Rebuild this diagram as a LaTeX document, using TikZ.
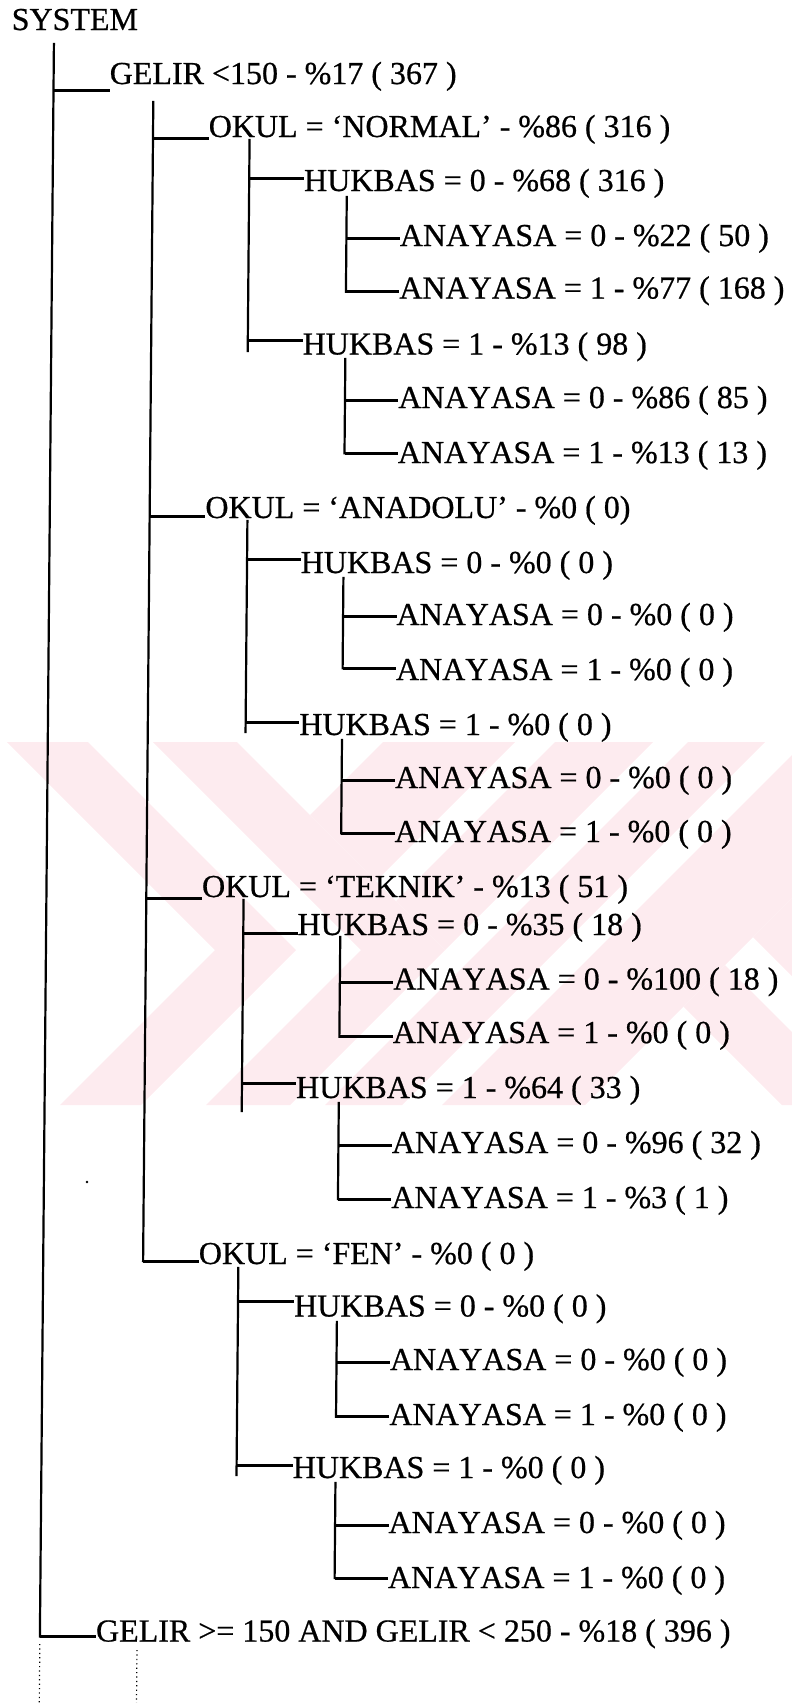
\documentclass[tikz,border=0pt]{standalone}
\usepackage{fontspec}
\setmainfont{Liberation Serif}[Kerning=Off,FakeBold=0.6]
\definecolor{wmpink}{RGB}{253,235,239}
\tikzset{
  lbl/.style={anchor=base west, inner sep=0pt, outer sep=0pt,
              font=\fontsize{16}{19}\selectfont},
  trunk/.style={line width=1.1pt, line cap=rect},
  branch/.style={line width=1.5pt},
  trail/.style={line width=0.6pt, dash pattern=on 0.6pt off 1.6pt},
  wmark/.style={fill=wmpink, draw=none},
}
% one row of the tree: label, its junction on the parent trunk, and the connector
% #1 name, #2 trunk x, #3 label x, #4 baseline y, #5 rise of connector, #6 text
\newcommand\treerow[6]{%
  \node[lbl] (#1) at (#3,#4) {#6};
  \coordinate (#1-j) at (#2,{#4-(#5)});
  \draw[branch] (#1-j) -- (#1-j -| #1.west);
}
\begin{document}
\begin{tikzpicture}[x=0.5pt,y=-0.5pt]
\useasboundingbox (0,0) rectangle (792,1703);

% faint background emblem: two chevrons and slanted bands
\fill[wmark] (7,742) -- (88,742) -- (296,950) -- (141,1105) -- (60,1105) -- (215,950) -- cycle;
\fill[wmark] (153,742) -- (237,742) -- (445,950) -- (290,1105) -- (206,1105) -- (361,950) -- cycle;
\fill[wmark] (383,742) -- (515,742) -- (376,881) -- (310,815) -- cycle;
\fill[wmark] (555,742) -- (653,742) -- (445,950) -- (396,901) -- cycle;
\fill[wmark] (688,742) -- (765,742) -- (402,1105) -- (325,1105) -- cycle;
\fill[wmark] (792,755) -- (792,898) -- (585,1105) -- (442,1105) -- cycle;
\fill[wmark] (792,898) -- (792,976) -- (753,937) -- cycle;
\fill[wmark] (725,965) -- (792,1032) -- (792,1105) -- (782,1105) -- (683.5,1006.5) -- cycle;

\fill (87,1182) circle[radius=1.3];

\begin{scope}[xslant=0.0088]
  \node[lbl] (sys) at (12,30) {SYSTEM};

  % level 1
  \treerow{g1}{54.3}{110.5}{84}{-6}{GELIR <150 - \%17 ( 367 )}

  % OKUL = NORMAL
  \treerow{o1}{154.2}{210}{137}{-1}{OKUL = ‘NORMAL’ - \%86 ( 316 )}
  \treerow{h11}{250.8}{305.8}{191}{13}{HUKBAS = 0 - \%68 ( 316 )}
  \treerow{a111}{348.5}{402}{246}{7.7}{ANAYASA = 0 - \%22 ( 50 )}
  \treerow{a112}{348.5}{402}{298.5}{6.8}{ANAYASA = 1 - \%77 ( 168 )}
  \treerow{h12}{250.8}{305.8}{354.5}{14.5}{HUKBAS = 1 - \%13 ( 98 )}
  \treerow{a121}{348.5}{402}{408}{8}{ANAYASA = 0 - \%86 ( 85 )}
  \treerow{a122}{348.5}{402}{463}{9.7}{ANAYASA = 1 - \%13 ( 13 )}

  % OKUL = ANADOLU
  \treerow{o2}{154.2}{210}{518}{1.5}{OKUL = ‘ANADOLU’ - \%0 ( 0)}
  \treerow{h21}{252}{305.8}{573}{14}{HUKBAS = 0 - \%0 ( 0 )}
  \treerow{a211}{348.5}{402}{625}{8.3}{ANAYASA = 0 - \%0 ( 0 )}
  \treerow{a212}{348.5}{402}{680}{11.7}{ANAYASA = 1 - \%0 ( 0 )}
  \treerow{h22}{252}{305.8}{735}{13}{HUKBAS = 1 - \%0 ( 0 )}
  \treerow{a221}{348.5}{402}{788}{8}{ANAYASA = 0 - \%0 ( 0 )}
  \treerow{a222}{348.5}{402}{842}{8.7}{ANAYASA = 1 - \%0 ( 0 )}

  % OKUL = TEKNIK
  \treerow{o3}{154.2}{210}{897}{-1.3}{OKUL = ‘TEKNIK’ - \%13 ( 51 )}
  \treerow{h31}{251.5}{305.8}{935}{2}{HUKBAS = 0 - \%35 ( 18 )}
  \treerow{a311}{348.5}{402}{989.5}{6.8}{ANAYASA = 0 - \%100 ( 18 )}
  \treerow{a312}{348.5}{402}{1043}{6.3}{ANAYASA = 1 - \%0 ( 0 )}
  \treerow{h32}{251.5}{305.8}{1098}{14.7}{HUKBAS = 1 - \%64 ( 33 )}
  \treerow{a321}{348.5}{402}{1153}{8}{ANAYASA = 0 - \%96 ( 32 )}
  \treerow{a322}{348.5}{402}{1208}{9}{ANAYASA = 1 - \%3 ( 1 )}

  % OKUL = FEN
  \treerow{o4}{154.2}{210}{1264}{3}{OKUL = ‘FEN’ - \%0 ( 0 )}
  \treerow{h41}{249.5}{305.8}{1316.5}{15}{HUKBAS = 0 - \%0 ( 0 )}
  \treerow{a411}{348.5}{402}{1370}{7.3}{ANAYASA = 0 - \%0 ( 0 )}
  \treerow{a412}{348.5}{402}{1425}{8.3}{ANAYASA = 1 - \%0 ( 0 )}
  \treerow{h42}{249.5}{305.8}{1478}{13}{HUKBAS = 1 - \%0 ( 0 )}
  \treerow{a421}{348.5}{402}{1533}{8}{ANAYASA = 0 - \%0 ( 0 )}
  \treerow{a422}{348.5}{402}{1588}{10}{ANAYASA = 1 - \%0 ( 0 )}

  % level 1, second branch
  \treerow{g2}{54.3}{110.5}{1641.5}{5}{GELIR >= 150 AND GELIR < 250 - \%18 ( 396 )}

  % trunk tops and overshooting ends
  \coordinate (t0) at (54.3,44);
  \coordinate (t1) at (154.2,102);
  \coordinate (t2a) at (250.8,140);  \coordinate (t2a-e) at (250.8,351);
  \coordinate (t2b) at (252,521);    \coordinate (t2b-e) at (252,732);
  \coordinate (t2c) at (251.5,900);  \coordinate (t2c-e) at (251.5,1111);
  \coordinate (t2d) at (249.5,1268); \coordinate (t2d-e) at (249.5,1475);
  \coordinate (t3a) at (348.5,197);
  \coordinate (t3b) at (348.5,359);
  \coordinate (t3c) at (348.5,578);
  \coordinate (t3d) at (348.5,740);
  \coordinate (t3e) at (348.5,937);
  \coordinate (t3f) at (348.5,1103);
  \coordinate (t3g) at (348.5,1322);
  \coordinate (t3h) at (348.5,1483);

  \draw[trunk] (t0) -- (g2-j);
  \draw[trunk] (t1) -- (o4-j);
  \draw[trunk] (t2a) -- (t2a-e);
  \draw[trunk] (t2b) -- (t2b-e);
  \draw[trunk] (t2c) -- (t2c-e);
  \draw[trunk] (t2d) -- (t2d-e);
  \draw[trunk] (t3a) -- (a112-j);
  \draw[trunk] (t3b) -- (a122-j);
  \draw[trunk] (t3c) -- (a212-j);
  \draw[trunk] (t3d) -- (a222-j);
  \draw[trunk] (t3e) -- (a312-j);
  \draw[trunk] (t3f) -- (a322-j);
  \draw[trunk] (t3g) -- (a412-j);
  \draw[trunk] (t3h) -- (a422-j);

  % the listing continues below the page edge
  \coordinate (d0a) at (54.3,1644);  \coordinate (d0b) at (54.3,1703);
  \coordinate (d1a) at (151.5,1650); \coordinate (d1b) at (151.5,1703);
  \draw[trail] (d0a) -- (d0b);
  \draw[trail] (d1a) -- (d1b);
\end{scope}
\end{tikzpicture}
\end{document}
